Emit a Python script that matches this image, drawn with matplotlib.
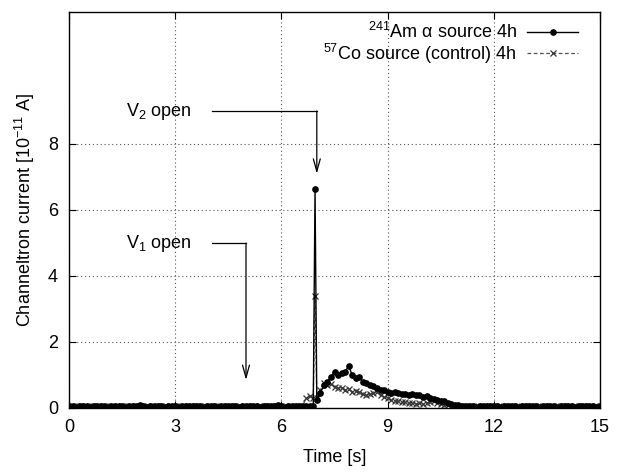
import matplotlib
matplotlib.use("Agg")
import matplotlib.pyplot as plt
import numpy as np

plt.rcParams['font.family'] = ['Liberation Sans', 'DejaVu Sans']
plt.rcParams['mathtext.fontset'] = 'custom'
plt.rcParams['mathtext.rm'] = 'Liberation Sans'
plt.rcParams['mathtext.it'] = 'Liberation Sans:italic'
plt.rcParams['mathtext.default'] = 'regular'

# ---- data ----
time_s = [0.0, 0.1, 0.2, 0.3, 0.4, 0.5, 0.6, 0.7, 0.8, 0.9,
          1.0, 1.1, 1.2, 1.3, 1.4, 1.5, 1.6, 1.7, 1.8, 1.9,
          2.0, 2.1, 2.2, 2.3, 2.4, 2.5, 2.6, 2.7, 2.8, 2.9,
          3.0, 3.1, 3.2, 3.3, 3.4, 3.5, 3.6, 3.7, 3.8, 3.9,
          4.0, 4.1, 4.2, 4.3, 4.4, 4.5, 4.6, 4.7, 4.8, 4.9,
          5.0, 5.1, 5.2, 5.3, 5.4, 5.5, 5.6, 5.7, 5.8, 5.9,
          6.0, 6.1, 6.2, 6.3, 6.4, 6.5, 6.6, 6.7, 6.8, 6.9,
          6.95,
          7.0, 7.1, 7.2, 7.3, 7.4, 7.5, 7.6, 7.7, 7.8, 7.9,
          8.0, 8.1, 8.2, 8.3, 8.4, 8.5, 8.6, 8.7, 8.8, 8.9,
          9.0, 9.1, 9.2, 9.3, 9.4, 9.5, 9.6, 9.7, 9.8, 9.9,
          10.0, 10.1, 10.2, 10.3, 10.4, 10.5, 10.6, 10.7, 10.8, 10.9,
          11.0, 11.1, 11.2, 11.3, 11.4, 11.5, 11.6, 11.7, 11.8, 11.9,
          12.0, 12.1, 12.2, 12.3, 12.4, 12.5, 12.6, 12.7, 12.8, 12.9,
          13.0, 13.1, 13.2, 13.3, 13.4, 13.5, 13.6, 13.7, 13.8, 13.9,
          14.0, 14.1, 14.2, 14.3, 14.4, 14.5, 14.6, 14.7, 14.8, 14.9,
          15.0]

am_current = [
    # 0.0 - 6.9
    0.05, 0.06, 0.04, 0.05, 0.07, 0.05, 0.04, 0.06, 0.05, 0.05,
    0.06, 0.04, 0.05, 0.07, 0.06, 0.05, 0.04, 0.05, 0.06, 0.05,
    0.08, 0.05, 0.04, 0.06, 0.05, 0.07, 0.05, 0.04, 0.05, 0.06,
    0.05, 0.04, 0.06, 0.05, 0.05, 0.07, 0.05, 0.06, 0.04, 0.05,
    0.06, 0.05, 0.04, 0.05, 0.07, 0.05, 0.06, 0.05, 0.04, 0.06,
    0.05, 0.05, 0.07, 0.05, 0.04, 0.06, 0.05, 0.05, 0.06, 0.08,
    0.05, 0.04, 0.06, 0.05, 0.05, 0.06, 0.05, 0.07, 0.05, 0.06,
    # 6.95
    6.65,
    # 7.0 - 7.9
    0.25, 0.45, 0.70, 0.80, 0.95, 1.10, 1.00, 1.05, 1.10, 1.27,
    # 8.0 - 8.9
    1.00, 0.90, 0.95, 0.80, 0.75, 0.70, 0.68, 0.62, 0.55, 0.55,
    # 9.0 - 9.9
    0.48, 0.45, 0.47, 0.44, 0.42, 0.43, 0.40, 0.42, 0.38, 0.40,
    # 10.0 - 10.9
    0.33, 0.35, 0.30, 0.28, 0.25, 0.22, 0.20, 0.15, 0.12, 0.10,
    # 11.0 - 15.0
    0.08, 0.06, 0.05, 0.06, 0.05, 0.04, 0.05, 0.06, 0.05, 0.05,
    0.07, 0.05, 0.04, 0.06, 0.05, 0.05, 0.06, 0.04, 0.05, 0.06,
    0.05, 0.07, 0.05, 0.04, 0.05, 0.06, 0.05, 0.05, 0.04, 0.06,
    0.05, 0.06, 0.05, 0.04, 0.05, 0.07, 0.05, 0.06, 0.05, 0.04,
    0.05]

co_current = [
    # 0.0 - 6.6
    0.04, 0.05, 0.06, 0.05, 0.04, 0.05, 0.06, 0.05, 0.05, 0.04,
    0.05, 0.06, 0.05, 0.04, 0.05, 0.05, 0.06, 0.05, 0.04, 0.05,
    0.06, 0.05, 0.05, 0.04, 0.06, 0.05, 0.05, 0.06, 0.04, 0.05,
    0.05, 0.06, 0.05, 0.04, 0.05, 0.05, 0.06, 0.05, 0.05, 0.04,
    0.05, 0.06, 0.05, 0.05, 0.04, 0.05, 0.06, 0.05, 0.05, 0.04,
    0.06, 0.05, 0.05, 0.04, 0.05, 0.06, 0.05, 0.05, 0.04, 0.05,
    0.06, 0.05, 0.04, 0.05, 0.06, 0.05, 0.07,
    # 6.7 - 6.9
    0.30, 0.35, 0.30,
    # 6.95
    3.40,
    # 7.0 - 7.9
    0.30, 0.55, 0.75, 0.70, 0.72, 0.65, 0.60, 0.62, 0.55, 0.57,
    # 8.0 - 8.9
    0.50, 0.52, 0.48, 0.42, 0.38, 0.42, 0.45, 0.48, 0.40, 0.32,
    # 9.0 - 9.9
    0.30, 0.25, 0.22, 0.20, 0.18, 0.17, 0.15, 0.15, 0.13, 0.14,
    # 10.0 - 10.7
    0.12, 0.15, 0.18, 0.20, 0.15, 0.12, 0.10, 0.08,
    # 10.8 - 15.0
    0.06, 0.05, 0.05, 0.04, 0.05, 0.06, 0.05, 0.05, 0.04, 0.05,
    0.06, 0.05, 0.05, 0.04, 0.05, 0.05, 0.06, 0.05, 0.04, 0.05,
    0.05, 0.06, 0.05, 0.05, 0.04, 0.05, 0.06, 0.05, 0.05, 0.04,
    0.05, 0.05, 0.06, 0.05, 0.04, 0.05, 0.05, 0.06, 0.05, 0.05,
    0.04, 0.05, 0.05]

x_ticks = [0, 3, 6, 9, 12, 15]
y_ticks = [0, 2, 4, 6, 8]
labels = ['$^{241}$Am \u03b1 source 4h', '$^{57}$Co source (control) 4h']

# valve-open events: (label, time of event, text height, arrow tip height)
events = [('V$_2$ open', 7.0, 9.0, 7.1),
          ('V$_1$ open', 5.0, 5.0, 0.85)]

FS = 13

# ---- figure ----
fig = plt.figure(figsize=(6.17, 4.72), dpi=100)
ax = fig.add_axes([69/617, 64/472, 531/617, 396/472])

ax.plot(time_s, am_current, '-', color='black', lw=1.0,
        marker='o', ms=3.8, mfc='black', mec='black', label=labels[0], zorder=3)
ax.plot(time_s, co_current, '--', color='#555555', lw=0.9, dashes=(3, 2),
        marker='x', ms=4.2, mew=0.9, mec='#333333', label=labels[1], zorder=2)

ax.set_xlim(0, 15)
ax.set_ylim(0, 12)
ax.set_xticks(x_ticks)
ax.set_yticks(y_ticks)
ax.tick_params(direction='in', length=5, width=0.8, top=True, right=True,
               labelsize=FS, pad=8)
ax.grid(True, linestyle=(0, (1, 2.5)), color='#555555', lw=0.8)
for s in ax.spines.values():
    s.set_linewidth(1.0)

ax.set_xlabel('Time [s]', fontsize=FS, labelpad=9)
ax.set_ylabel('Channeltron current [10$^{-11}$ A]', fontsize=FS, labelpad=8)

for text, t_evt, y_txt, y_tip in events:
    ax.text(3.45, y_txt, text, ha='right', va='center', fontsize=FS)
    ax.plot([4.04, t_evt], [y_txt, y_txt], color='black', lw=0.9)
    ax.annotate('', xy=(t_evt, y_tip), xytext=(t_evt, y_txt),
                arrowprops=dict(arrowstyle='->,head_length=0.9,head_width=0.25',
                                color='black', lw=0.9, shrinkA=0, shrinkB=0))

leg = ax.legend(loc='upper right', bbox_to_anchor=(0.9586, 0.975),
                frameon=False, markerfirst=False,
                fontsize=FS, handlelength=2.8, handletextpad=0.6,
                labelspacing=-0.03, borderaxespad=0.0, borderpad=0.0,
                numpoints=1)

fig.savefig('out.png', dpi=100)
